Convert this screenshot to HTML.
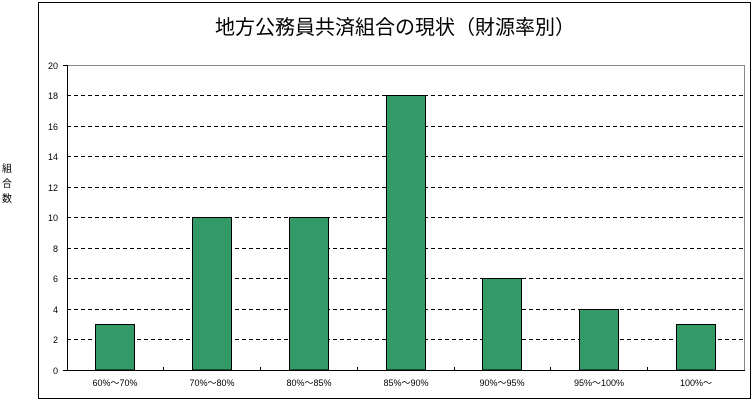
<!DOCTYPE html><html><head><meta charset="utf-8"><style>body{margin:0;background:#fff}svg{display:block}text{font-family:"Liberation Sans","Noto Sans CJK JP",sans-serif}</style></head><body>
<svg width="754" height="402" xmlns="http://www.w3.org/2000/svg">
<rect x="38.5" y="2.5" width="712" height="396" fill="#fff" stroke="#000"/>
<text x="395" y="34" font-size="20" text-anchor="middle" font-family="'Noto Sans CJK JP',sans-serif">地方公務員共済組合の現状（財源率別）</text>
<g font-size="10" text-anchor="middle" font-family="'Noto Sans CJK JP',sans-serif"><text x="7" y="172">組</text><text x="7" y="187">合</text><text x="7" y="202">数</text></g>
<line x1="67" y1="65.5" x2="744" y2="65.5" stroke="#888"/>
<line x1="744.5" y1="65" x2="744.5" y2="370" stroke="#888"/>
<g stroke="#000" stroke-dasharray="4,3">
<line x1="67" y1="95.5" x2="744" y2="95.5"/><line x1="67" y1="126.5" x2="744" y2="126.5"/><line x1="67" y1="156.5" x2="744" y2="156.5"/><line x1="67" y1="187.5" x2="744" y2="187.5"/><line x1="67" y1="217.5" x2="744" y2="217.5"/><line x1="67" y1="248.5" x2="744" y2="248.5"/><line x1="67" y1="278.5" x2="744" y2="278.5"/><line x1="67" y1="309.5" x2="744" y2="309.5"/><line x1="67" y1="339.5" x2="744" y2="339.5"/>
</g>
<g fill="#339966" stroke="#000">
<rect x="95.5" y="324.5" width="39" height="45.5"/>
<rect x="192.5" y="217.5" width="39" height="152.5"/>
<rect x="289.5" y="217.5" width="39" height="152.5"/>
<rect x="386.5" y="95.5" width="39" height="274.5"/>
<rect x="482.5" y="278.5" width="39" height="91.5"/>
<rect x="579.5" y="309.5" width="39" height="60.5"/>
<rect x="676.5" y="324.5" width="39" height="45.5"/>
</g>
<line x1="67.5" y1="65" x2="67.5" y2="371" stroke="#000"/>
<line x1="63" y1="370.5" x2="745" y2="370.5" stroke="#000"/>
<g stroke="#000"><line x1="163.5" y1="367" x2="163.5" y2="371"/><line x1="260.5" y1="367" x2="260.5" y2="371"/><line x1="357.5" y1="367" x2="357.5" y2="371"/><line x1="454.5" y1="367" x2="454.5" y2="371"/><line x1="550.5" y1="367" x2="550.5" y2="371"/><line x1="647.5" y1="367" x2="647.5" y2="371"/>
<line x1="63" y1="65.5" x2="67" y2="65.5"/></g>
<g font-size="9" text-anchor="end">
<text x="58" y="374">0</text><text x="58" y="343">2</text><text x="58" y="313">4</text><text x="58" y="282">6</text><text x="58" y="252">8</text><text x="58" y="221">10</text><text x="58" y="191">12</text><text x="58" y="160">14</text><text x="58" y="130">16</text><text x="58" y="99">18</text><text x="58" y="69">20</text></g>
<g font-size="9" text-anchor="middle">
<text x="115" y="386">60%～70%</text><text x="212" y="386">70%～80%</text><text x="309" y="386">80%～85%</text><text x="406" y="386">85%～90%</text><text x="502" y="386">90%～95%</text><text x="599" y="386">95%～100%</text><text x="696" y="386">100%～</text></g>
</svg></body></html>
